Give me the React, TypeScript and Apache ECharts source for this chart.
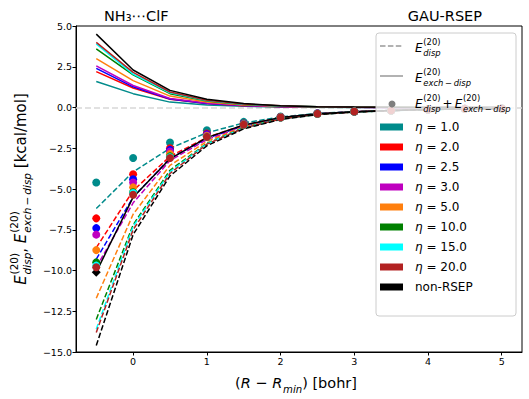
import React, { useEffect, useRef } from 'react';
import * as echarts from 'echarts';

// ---------- data ----------
const xValues = [-0.5, 0, 0.5, 1, 1.5, 2, 2.5, 3, 3.5, 4, 4.5, 5];
const xTickValues = [0, 1, 2, 3, 4, 5];
const seriesNames = ['η = 1.0', 'η = 2.0', 'η = 2.5', 'η = 3.0', 'η = 5.0', 'η = 10.0', 'η = 15.0', 'η = 20.0', 'non-RSEP'];
const seriesColors = ['#008b8b', '#ff0000', '#0000ff', '#bf00bf', '#ff7f0e', '#008000', '#00ffff', '#b22222', '#000000'];

// E_exch-disp (solid lines)
const exchEta1 = [1.6, 0.85, 0.33, 0.15, 0.07, 0.03, 0.015, 0.007, 0.004, 0.002, 0.001, 0.0005];
const exchEta2 = [2.2, 1.2, 0.5, 0.24, 0.11, 0.05, 0.025, 0.012, 0.006, 0.003, 0.0015, 0.001];
const exchEta25 = [2.4, 1.27, 0.52, 0.25, 0.12, 0.055, 0.027, 0.013, 0.006, 0.003, 0.0015, 0.001];
const exchEta3 = [2.55, 1.35, 0.55, 0.27, 0.13, 0.06, 0.029, 0.014, 0.007, 0.003, 0.0016, 0.001];
const exchEta5 = [3.0, 1.65, 0.7, 0.33, 0.16, 0.07, 0.034, 0.016, 0.008, 0.004, 0.002, 0.001];
const exchEta10 = [3.6, 2.0, 0.85, 0.4, 0.19, 0.09, 0.042, 0.02, 0.01, 0.005, 0.0025, 0.001];
const exchEta15 = [3.9, 2.05, 0.9, 0.43, 0.2, 0.09, 0.044, 0.021, 0.01, 0.005, 0.0025, 0.001];
const exchEta20 = [4.0, 2.15, 0.95, 0.45, 0.21, 0.1, 0.046, 0.022, 0.011, 0.005, 0.0025, 0.001];
const exchNonRsep = [4.5, 2.3, 1.05, 0.5, 0.24, 0.11, 0.05, 0.024, 0.012, 0.006, 0.003, 0.0015];

// E_disp (dashed lines)
const dispEta1 = [-6.2, -3.95, -2.5, -1.55, -0.95, -0.58, -0.365, -0.247, -0.174, -0.122, -0.081, -0.06];
const dispEta2 = [-8.6, -5.1, -3.0, -1.84, -1.09, -0.63, -0.395, -0.262, -0.186, -0.123, -0.087, -0.061];
const dispEta25 = [-9.3, -5.5, -3.12, -1.9, -1.12, -0.645, -0.4, -0.263, -0.186, -0.123, -0.087, -0.061];
const dispEta3 = [-9.8, -5.85, -3.25, -1.97, -1.15, -0.66, -0.4, -0.264, -0.187, -0.123, -0.087, -0.061];
const dispEta5 = [-11.7, -6.55, -3.55, -2.08, -1.19, -0.67, -0.414, -0.266, -0.188, -0.129, -0.087, -0.061];
const dispEta10 = [-13.0, -7.2, -3.85, -2.2, -1.24, -0.7, -0.42, -0.27, -0.19, -0.13, -0.088, -0.061];
const dispEta15 = [-13.6, -7.3, -3.95, -2.23, -1.25, -0.7, -0.424, -0.271, -0.19, -0.13, -0.088, -0.061];
const dispEta20 = [-13.8, -7.5, -4.05, -2.25, -1.26, -0.71, -0.426, -0.272, -0.191, -0.13, -0.088, -0.061];
const dispNonRsep = [-14.6, -7.8, -4.2, -2.35, -1.31, -0.73, -0.435, -0.279, -0.192, -0.131, -0.088, -0.062];

// E_disp + E_exch-disp (dots; non-RSEP as black line)
const sumEta1 = [-4.6, -3.1, -2.15, -1.4, -0.88, -0.55, -0.35, -0.24, -0.17, -0.12, -0.08, -0.06];
const sumEta2 = [-6.8, -4.1, -2.5, -1.6, -0.98, -0.58, -0.37, -0.25, -0.18, -0.12, -0.085, -0.06];
const sumEta25 = [-7.4, -4.4, -2.6, -1.65, -1.0, -0.59, -0.37, -0.25, -0.18, -0.12, -0.085, -0.06];
const sumEta3 = [-7.8, -4.6, -2.7, -1.7, -1.02, -0.6, -0.37, -0.25, -0.18, -0.12, -0.085, -0.06];
const sumEta5 = [-8.75, -4.9, -2.85, -1.75, -1.03, -0.6, -0.38, -0.25, -0.18, -0.125, -0.085, -0.06];
const sumEta10 = [-9.5, -5.2, -3.0, -1.8, -1.05, -0.61, -0.38, -0.25, -0.18, -0.125, -0.085, -0.06];
const sumEta15 = [-9.7, -5.25, -3.05, -1.8, -1.05, -0.61, -0.38, -0.25, -0.18, -0.125, -0.085, -0.06];
const sumEta20 = [-9.8, -5.35, -3.1, -1.8, -1.05, -0.61, -0.38, -0.25, -0.18, -0.125, -0.085, -0.06];
const sumNonRsep = [-10.1, -5.5, -3.15, -1.85, -1.07, -0.62, -0.385, -0.255, -0.18, -0.125, -0.085, -0.06];

const exchList = [exchEta1, exchEta2, exchEta25, exchEta3, exchEta5, exchEta10, exchEta15, exchEta20, exchNonRsep];
const dispList = [dispEta1, dispEta2, dispEta25, dispEta3, dispEta5, dispEta10, dispEta15, dispEta20, dispNonRsep];
const sumList = [sumEta1, sumEta2, sumEta25, sumEta3, sumEta5, sumEta10, sumEta15, sumEta20, sumNonRsep];

// ---------- text helpers ----------
const FONT = 'DejaVu Sans';
let measureCtx: CanvasRenderingContext2D | null = null;
function textWidth(t: string, size: number, italic = false): number {
  if (!measureCtx) measureCtx = document.createElement('canvas').getContext('2d');
  measureCtx!.font = `${italic ? 'italic ' : ''}${size}px "${FONT}"`;
  return measureCtx!.measureText(t).width;
}

type Atom = { t?: string; it?: boolean; sup?: string; sub?: string; subIt?: boolean; padL?: number; padR?: number };

function mathGroup(atoms: Atom[], size: number, x: number, y: number, opts: { center?: boolean; rotation?: number; z?: number } = {}) {
  const z = opts.z ?? 6;
  const ss = size * 0.7;
  const els: any[] = [];
  let cx = 0;
  const mk = (text: string, px: number, py: number, fs: number, it: boolean) => ({
    type: 'text', x: px, y: py, z, silent: true,
    style: { text, fontSize: fs, fontFamily: FONT, fontStyle: it ? 'italic' : 'normal', fill: '#000', align: 'left', verticalAlign: 'middle' },
  });
  for (const a of atoms) {
    if (a.padL) cx += a.padL;
    if (a.t) {
      els.push(mk(a.t, cx, 0, size, !!a.it));
      cx += textWidth(a.t, size, !!a.it);
    }
    if (a.sup || a.sub) {
      const sx = cx + size * 0.06;
      let w = 0;
      if (a.sup) { els.push(mk(a.sup, sx, -size * 0.5, ss, false)); w = Math.max(w, textWidth(a.sup, ss)); }
      if (a.sub) { els.push(mk(a.sub, sx, size * 0.42, ss, !!a.subIt)); w = Math.max(w, textWidth(a.sub, ss, !!a.subIt)); }
      cx = sx + w;
    }
    if (a.padR) cx += a.padR;
  }
  return {
    type: 'group', x, y, rotation: opts.rotation ?? 0, z,
    children: [{ type: 'group', x: opts.center ? -cx / 2 : 0, y: 0, z, children: els }],
  };
}

const TS = '\u2009';

function buildOption(): any {
  const series: any[] = [];
  // solid E_exch-disp
  exchList.forEach((vals, i) => {
    const s: any = {
      type: 'line', name: seriesNames[i], data: xValues.map((x, j) => [x, vals[j]]),
      symbol: 'none', z: 2, color: seriesColors[i],
      lineStyle: { color: seriesColors[i], width: 1.5 },
    };
    if (i === 0) {
      s.markLine = {
        silent: true, symbol: ['none', 'none'], label: { show: false },
        lineStyle: { color: '#d8d8d8', type: [6, 3], width: 1.5 },
        data: [{ yAxis: 0 }], z: 1,
      };
    }
    series.push(s);
  });
  // dashed E_disp
  dispList.forEach((vals, i) => {
    series.push({
      type: 'line', name: seriesNames[i], data: xValues.map((x, j) => [x, vals[j]]),
      symbol: 'none', z: 2, color: seriesColors[i],
      lineStyle: { color: seriesColors[i], width: 1.5, type: [5.5, 2.4] },
    });
  });
  // non-RSEP sum line (black, diamond at first point)
  series.push({
    type: 'line', name: seriesNames[8], z: 2, color: '#000',
    showSymbol: true, symbol: 'none',
    data: xValues.map((x, j) => (j === 0 ? { value: [x, sumNonRsep[j]], symbol: 'diamond', symbolSize: 9 } : { value: [x, sumNonRsep[j]] })),
    lineStyle: { color: '#000', width: 1.5 },
    itemStyle: { color: '#000' },
  });
  // dots
  sumList.slice(0, 8).forEach((vals, i) => {
    series.push({
      type: 'scatter', name: seriesNames[i], z: 3, symbolSize: 8,
      data: xValues.map((x, j) => [x, vals[j]]),
      itemStyle: { color: seriesColors[i], opacity: 1 },
    });
  });

  const graphics: any[] = [
    {
      type: 'rect', z: 5, silent: true,
      shape: { x: 376, y: 33, width: 140, height: 283, r: 3 },
      style: { fill: 'rgba(255,255,255,0.8)', stroke: '#cccccc', lineWidth: 1 },
    },
    { type: 'line', z: 6, silent: true, shape: { x1: 380, y1: 46, x2: 403, y2: 46 }, style: { stroke: '#999999', lineWidth: 1.5, lineDash: [5.5, 2.4] } },
    { type: 'line', z: 6, silent: true, shape: { x1: 380, y1: 76, x2: 403, y2: 76 }, style: { stroke: '#999999', lineWidth: 1.5 } },
    { type: 'circle', z: 6, silent: true, shape: { cx: 392, cy: 104, r: 3.5 }, style: { fill: '#7f7f7f' } },
    mathGroup([{ t: 'E', it: true, sup: '(20)', sub: 'disp', subIt: true }], 12, 415, 48),
    mathGroup([{ t: 'E', it: true, sup: '(20)', sub: `exch${TS}−${TS}disp`, subIt: true }], 12, 415, 78),
    mathGroup([
      { t: 'E', it: true, sup: '(20)', sub: 'disp', subIt: true },
      { t: '+', padL: 2, padR: 2 },
      { t: 'E', it: true, sup: '(20)', sub: `exch${TS}−${TS}disp`, subIt: true },
    ], 12, 415, 104),
    // y axis label
    mathGroup([
      { t: 'E', it: true, sup: '(20)', sub: 'disp', subIt: true },
      { t: ', ' },
      { t: 'E', it: true, sup: '(20)', sub: `exch${TS}−${TS}disp`, subIt: true },
      { t: ' [kcal/mol]' },
    ], 15, 21, 189, { center: true, rotation: Math.PI / 2 }),
    // x axis label
    mathGroup([
      { t: '(' }, { t: 'R', it: true }, { t: ' − ' }, { t: 'R', it: true, sub: 'min', subIt: true }, { t: ') [bohr]' },
    ], 14.5, 296, 383, { center: true }),
  ];

  return {
    animation: false,
    backgroundColor: '#ffffff',
    textStyle: { fontFamily: FONT },
    title: [
      { text: 'NH₃⋯ClF', left: 104, top: 8, padding: 0, textStyle: { fontSize: 14.5, fontWeight: 'normal', fontFamily: FONT, color: '#000' } },
      { text: 'GAU-RSEP', right: 47, top: 8, padding: 0, textStyle: { fontSize: 14.5, fontWeight: 'normal', fontFamily: FONT, color: '#000' } },
    ],
    grid: { left: 76, right: 7, top: 26, bottom: 47, show: true, borderColor: '#000', borderWidth: 1, backgroundColor: 'transparent' },
    xAxis: {
      type: 'value', min: -0.775, max: 5.275,
      splitLine: { show: false },
      axisLine: { onZero: false, lineStyle: { color: '#000', width: 1 } },
      axisTick: { show: true, length: 3.5, customValues: xTickValues, lineStyle: { color: '#000' } },
      axisLabel: { customValues: xTickValues, fontSize: 9.5, color: '#000', margin: 4, fontFamily: FONT, formatter: (v: number) => String(v) },
    },
    yAxis: {
      type: 'value', min: -15, max: 5, interval: 2.5,
      splitLine: { show: false },
      axisLine: { show: true, onZero: false, lineStyle: { color: '#000', width: 1 } },
      axisTick: { show: true, length: 3.5, lineStyle: { color: '#000' } },
      axisLabel: {
        fontSize: 9.5, color: '#000', margin: 4, fontFamily: FONT,
        formatter: (v: number) => (v < 0 ? '−' : '') + Math.abs(v).toFixed(1),
      },
    },
    legend: {
      orient: 'vertical', left: 380, top: 121, padding: 0, z: 10,
      itemWidth: 23, itemHeight: 7, itemGap: 8, icon: 'rect',
      selectedMode: false,
      data: seriesNames.map((n, i) => ({ name: n, itemStyle: { color: seriesColors[i], borderWidth: 0 } })),
      formatter: (name: string) => (name.startsWith('η') ? `{i|η}{n|${name.slice(1)}}` : `{n|${name}}`),
      textStyle: {
        fontSize: 12, color: '#000', fontFamily: FONT, padding: [0, 0, 0, 7],
        rich: {
          i: { fontSize: 12, fontStyle: 'italic', fontFamily: FONT, color: '#000', lineHeight: 14 },
          n: { fontSize: 12, fontFamily: FONT, color: '#000', lineHeight: 14 },
        },
      },
    },
    graphic: { elements: graphics },
    series,
  };
}

export default function App() {
  const ref = useRef<HTMLDivElement>(null);
  useEffect(() => {
    const chart = echarts.init(ref.current!, null, { renderer: 'svg' });
    chart.setOption(buildOption());
    return () => chart.dispose();
  }, []);
  return <div ref={ref} style={{ position: 'absolute', left: 0, top: 0, width: 529, height: 399 }} />;
}
